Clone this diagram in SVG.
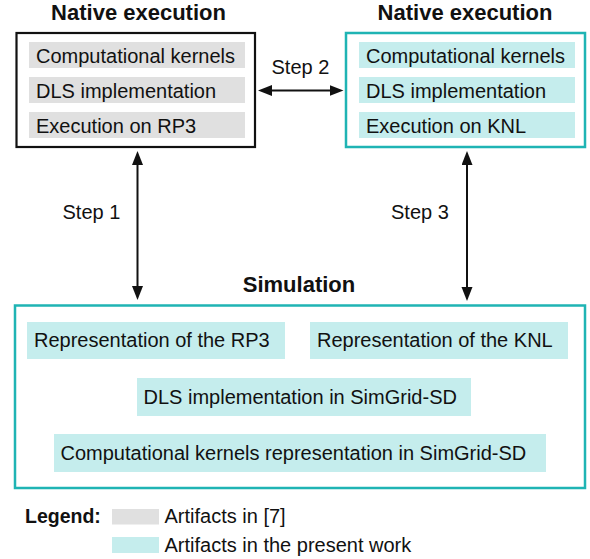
<svg xmlns="http://www.w3.org/2000/svg" width="590" height="559" viewBox="0 0 590 559">
<style>
text{font-family:"Liberation Sans",Arial,sans-serif;fill:#111}
.t{font-size:20px}
.h{font-size:22px;font-weight:bold;text-anchor:middle}
.g{fill:#e0e0e0}
.c{fill:#c5eded}
.bk{fill:#fff;stroke:#111;stroke-width:2.2}
.tl{fill:#fff;stroke:#1fb4b4;stroke-width:2.5}
.ln{stroke:#111;stroke-width:2;fill:none;marker-start:url(#ah);marker-end:url(#ah)}
</style>
<defs>
<marker id="ah" markerUnits="userSpaceOnUse" markerWidth="16" markerHeight="12" refX="6" refY="5.5" orient="auto-start-reverse">
<path d="M0,0 L14,5.5 L0,11 z" fill="#111"/>
</marker>
</defs>
<g id="native-rp3">
<text class="h" x="138.5" y="20">Native execution</text>
<rect class="bk" x="16.5" y="33" width="238.5" height="114"/>
<rect class="g" x="29" y="42" width="216" height="26"/>
<rect class="g" x="29" y="77" width="216" height="26"/>
<rect class="g" x="29" y="112" width="216" height="26"/>
<text class="t" x="36" y="63">Computational kernels</text>
<text class="t" x="36" y="98">DLS implementation</text>
<text class="t" x="36" y="133">Execution on RP3</text>
</g>
<g id="native-knl">
<text class="h" x="465" y="20">Native execution</text>
<rect class="tl" x="346" y="33" width="239" height="114"/>
<rect class="c" x="359" y="42" width="216" height="26"/>
<rect class="c" x="359" y="77" width="216" height="26"/>
<rect class="c" x="359" y="112" width="216" height="26"/>
<text class="t" x="366" y="63">Computational kernels</text>
<text class="t" x="366" y="98">DLS implementation</text>
<text class="t" x="366" y="133">Execution on KNL</text>
</g>
<g id="simulation">
<text class="h" x="299" y="292">Simulation</text>
<rect class="tl" x="15" y="305.5" width="570" height="182.5"/>
<rect class="c" x="27" y="322" width="258" height="37"/>
<rect class="c" x="310" y="322" width="258" height="37"/>
<rect class="c" x="137" y="378" width="334" height="38"/>
<rect class="c" x="54" y="434" width="492" height="38"/>
<text class="t" x="34" y="347">Representation of the RP3</text>
<text class="t" x="317" y="347">Representation of the KNL</text>
<text class="t" x="143.5" y="403.5">DLS implementation in SimGrid-SD</text>
<text class="t" x="60.5" y="459.5">Computational kernels representation in SimGrid-SD</text>
</g>
<g id="connectors">
<line class="ln" x1="137.5" y1="159" x2="137.5" y2="292"/>
<line class="ln" x1="467" y1="159" x2="467" y2="293"/>
<line class="ln" x1="266" y1="90.5" x2="335.5" y2="90.5"/>
<text class="t" x="62.5" y="219">Step 1</text>
<text class="t" x="391" y="219">Step 3</text>
<text class="t" x="271.5" y="73.5">Step 2</text>
</g>
<g id="legend">
<text x="25" y="523" style="font-size:19.5px;font-weight:bold">Legend:</text>
<rect class="g" x="112" y="509" width="47" height="15.5"/>
<rect class="c" x="112" y="537" width="47" height="16"/>
<text class="t" x="164.5" y="523">Artifacts in [7]</text>
<text class="t" x="164.5" y="551.5">Artifacts in the present work</text>
</g>
</svg>
